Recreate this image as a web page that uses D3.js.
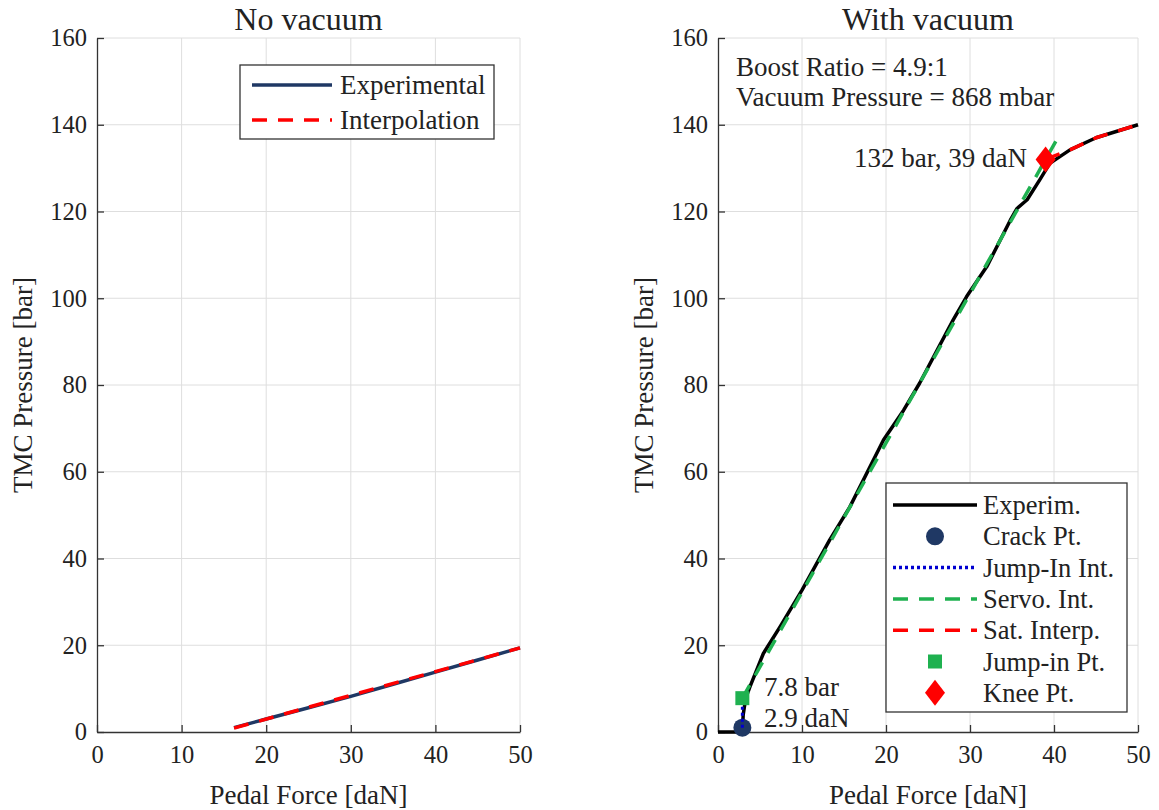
<!DOCTYPE html>
<html>
<head>
<meta charset="utf-8">
<script src="https://cdn.jsdelivr.net/npm/d3@7/dist/d3.min.js"></script>
<style>
  html, body { margin: 0; padding: 0; background: #fff; }
  svg text { font-family: "Liberation Serif", "Times New Roman", serif; fill: #222; }
</style>
</head>
<body>
<svg id="chart" width="1159" height="810"></svg>
<script>
// ---- Data ----
const xTicks = [0, 10, 20, 30, 40, 50];
const yTicks = [0, 20, 40, 60, 80, 100, 120, 140, 160];

// No vacuum: pedal force [daN] vs TMC pressure [bar]
const noVacExpForce = [16.2, 20, 25, 30, 35, 40, 45, 50];
const noVacExpPress = [1.0, 3.0, 5.6, 8.2, 11.0, 13.8, 16.6, 19.4];
const noVacIntForce = [16.2, 50];
const noVacIntPress = [0.9, 19.4];

// With vacuum: experimental curve
const vacExpForce = [0, 2.9, 3.0, 3.3, 3.8, 5.4, 7.4, 10, 13.3, 15.7, 19.7, 22.1, 24, 28, 29.6, 32, 34.8, 35.6, 36.8, 38.3, 39.5, 41.9, 45, 50];
const vacExpPress = [0, 0, 4.0, 7.8, 10.4, 18.1, 24.3, 32.7, 44.3, 51.9, 67.3, 74.2, 80.4, 95, 100.4, 107.3, 118, 120.7, 122.7, 127.3, 131.1, 134.2, 137, 140];

// Fitted segments
const jumpInForce = [2.9, 2.9];
const jumpInPress = [1.0, 7.8];
const servoForce = [2.9, 40.8];
const servoPress = [7.8, 138.2];
const satForce = [39, 41.9, 45, 50];
const satPress = [132, 134.2, 137, 140];

// Characteristic points
const crackPt = [2.9, 1.0];
const jumpPt = [2.9, 7.8];
const kneePt = [39, 132];

const legendLeft = ["Experimental", "Interpolation"];
const legendRight = ["Experim.", "Crack Pt.", "Jump-In Int.", "Servo. Int.", "Sat. Interp.", "Jump-in Pt.", "Knee Pt."];

// ---- Styles ----
const NAVY = "#1f3864";
const RED = "#ff0000";
const GREEN = "#1fb150";
const BLUE = "#0000d0";
const AXIS = "#333";
const GRID = "#dedede";

const svg = d3.select("#chart");
const plotTop = 38, plotBottom = 732;

function zip(xs, ys) { return xs.map((x, i) => [x, ys[i]]); }

function panel(left, right, title) {
  const x = d3.scaleLinear().domain([0, 50]).range([left, right]);
  const y = d3.scaleLinear().domain([0, 160]).range([plotBottom, plotTop]);
  const g = svg.append("g");

  // grid
  g.append("g").selectAll("line").data(xTicks.filter(d => d > 0)).join("line")
    .attr("x1", d => x(d)).attr("x2", d => x(d)).attr("y1", plotTop).attr("y2", plotBottom)
    .attr("stroke", GRID).attr("stroke-width", 1);
  g.append("g").selectAll("line").data(yTicks.filter(d => d > 0)).join("line")
    .attr("x1", left).attr("x2", right).attr("y1", d => y(d)).attr("y2", d => y(d))
    .attr("stroke", GRID).attr("stroke-width", 1);

  // axes (ticks inward)
  const ax = g.append("g").attr("transform", `translate(0,${plotBottom})`)
    .call(d3.axisBottom(x).tickValues(xTicks).tickSizeInner(-7).tickSizeOuter(0).tickPadding(14));
  const ay = g.append("g").attr("transform", `translate(${left},0)`)
    .call(d3.axisLeft(y).tickValues(yTicks).tickSizeInner(-7).tickSizeOuter(0).tickPadding(10));
  [ax, ay].forEach(a => {
    a.select(".domain").attr("stroke", AXIS).attr("stroke-width", 1.3);
    a.selectAll(".tick line").attr("stroke", AXIS).attr("stroke-width", 1.3);
    a.selectAll(".tick text").attr("font-size", 24.5).attr("font-family", "Liberation Serif").attr("fill", "#222");
  });
  ax.selectAll(".tick text").attr("dy", "0.71em");

  // labels
  g.append("text").attr("x", (left + right) / 2).attr("y", 30)
    .attr("text-anchor", "middle").attr("font-size", 32).text(title);
  g.append("text").attr("x", (left + right) / 2).attr("y", 804)
    .attr("text-anchor", "middle").attr("font-size", 27).text("Pedal Force [daN]");
  g.append("text").attr("transform", `translate(${left - 65},${(plotTop + plotBottom) / 2}) rotate(-90)`)
    .attr("text-anchor", "middle").attr("font-size", 27).text("TMC Pressure [bar]");

  return { g, x, y };
}

function drawLine(p, pts, color, width, dash) {
  const line = d3.line().x(d => p.x(d[0])).y(d => p.y(d[1]));
  p.g.append("path").datum(pts).attr("d", line)
    .attr("fill", "none").attr("stroke", color).attr("stroke-width", width)
    .attr("stroke-dasharray", dash || null).attr("stroke-linejoin", "round");
}

// ---- Left panel ----
const L = panel(97, 520, "No vacuum");
drawLine(L, zip(noVacExpForce, noVacExpPress), NAVY, 3.5);
drawLine(L, zip(noVacIntForce, noVacIntPress), RED, 3.5, "15,11");

// legend
const lg = L.g.append("g");
lg.append("rect").attr("x", 240).attr("y", 65).attr("width", 254).attr("height", 74)
  .attr("fill", "#fff").attr("stroke", "#333").attr("stroke-width", 1.3);
const lRows = [85, 120];
lg.append("line").attr("x1", 252).attr("x2", 332).attr("y1", lRows[0]).attr("y2", lRows[0])
  .attr("stroke", NAVY).attr("stroke-width", 3.5);
lg.append("line").attr("x1", 252).attr("x2", 332).attr("y1", lRows[1]).attr("y2", lRows[1])
  .attr("stroke", RED).attr("stroke-width", 3.5).attr("stroke-dasharray", "15,11");
lg.selectAll("text").data(legendLeft).join("text")
  .attr("x", 340).attr("y", (d, i) => lRows[i] + 9).attr("font-size", 27).text(d => d);

// ---- Right panel ----
const R = panel(718, 1138, "With vacuum");
drawLine(R, zip(vacExpForce, vacExpPress), "#000", 3.5);
drawLine(R, zip(servoForce, servoPress), GREEN, 3.5, "15,11");
drawLine(R, zip(satForce, satPress), RED, 3.5, "15,11");

// characteristic points
R.g.append("circle").attr("cx", R.x(crackPt[0])).attr("cy", R.y(crackPt[1])).attr("r", 9).attr("fill", NAVY);
drawLine(R, zip(jumpInForce, jumpInPress), BLUE, 3, "3,3");
R.g.append("rect").attr("x", R.x(jumpPt[0]) - 7).attr("y", R.y(jumpPt[1]) - 7)
  .attr("width", 14).attr("height", 14).attr("fill", GREEN);
R.g.append("path").attr("transform", `translate(${R.x(kneePt[0])},${R.y(kneePt[1])})`)
  .attr("d", "M0,-13 L10,0 L0,13 L-10,0 Z").attr("fill", RED);

// annotations
R.g.append("text").attr("x", 1027).attr("y", 167).attr("text-anchor", "end").attr("font-size", 27)
  .text(`${kneePt[1]} bar, ${kneePt[0]} daN`);
R.g.append("text").attr("x", 764).attr("y", 696).attr("font-size", 27).text(`${jumpPt[1]} bar`);
R.g.append("text").attr("x", 764).attr("y", 727).attr("font-size", 27).text(`${crackPt[0]} daN`);
R.g.append("text").attr("x", 736).attr("y", 76).attr("font-size", 27).text("Boost Ratio = 4.9:1");
R.g.append("text").attr("x", 736).attr("y", 106).attr("font-size", 27).text("Vacuum Pressure = 868 mbar");

// legend
const rg = R.g.append("g");
rg.append("rect").attr("x", 886).attr("y", 483).attr("width", 241).attr("height", 229)
  .attr("fill", "#fff").attr("stroke", "#333").attr("stroke-width", 1.3);
const rRows = legendRight.map((d, i) => 505 + i * 31.3);
const sx1 = 893, sx2 = 977, sxm = (sx1 + sx2) / 2;
rg.append("line").attr("x1", sx1).attr("x2", sx2).attr("y1", rRows[0]).attr("y2", rRows[0]).attr("stroke", "#000").attr("stroke-width", 3.5);
rg.append("circle").attr("cx", sxm).attr("cy", rRows[1]).attr("r", 9).attr("fill", NAVY);
rg.append("line").attr("x1", sx1).attr("x2", sx2).attr("y1", rRows[2]).attr("y2", rRows[2]).attr("stroke", BLUE).attr("stroke-width", 3.5).attr("stroke-dasharray", "3,3");
rg.append("line").attr("x1", sx1).attr("x2", sx2).attr("y1", rRows[3]).attr("y2", rRows[3]).attr("stroke", GREEN).attr("stroke-width", 3.5).attr("stroke-dasharray", "15,11");
rg.append("line").attr("x1", sx1).attr("x2", sx2).attr("y1", rRows[4]).attr("y2", rRows[4]).attr("stroke", RED).attr("stroke-width", 3.5).attr("stroke-dasharray", "15,11");
rg.append("rect").attr("x", sxm - 7).attr("y", rRows[5] - 7).attr("width", 14).attr("height", 14).attr("fill", GREEN);
rg.append("path").attr("transform", `translate(${sxm},${rRows[6]})`).attr("d", "M0,-13 L10,0 L0,13 L-10,0 Z").attr("fill", RED);
rg.selectAll("text").data(legendRight).join("text")
  .attr("x", 983).attr("y", (d, i) => rRows[i] + 9).attr("font-size", 26.5).text(d => d);
</script>
</body>
</html>
